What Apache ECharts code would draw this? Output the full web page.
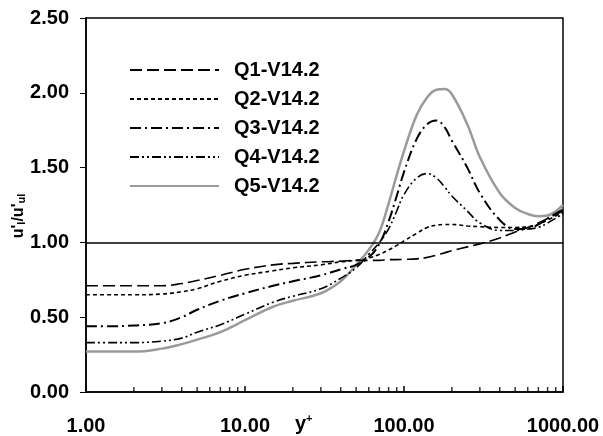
<!DOCTYPE html>
<html><head><meta charset="utf-8">
<script src="https://cdn.jsdelivr.net/npm/echarts@6/dist/echarts.min.js"></script>
<style>html,body{margin:0;padding:0;background:#fff}#c{width:603px;height:436px}</style>
</head><body><div id="c"></div>
<script>
const yPlus = [1, 1.5, 2, 3, 4, 5, 7, 10, 15, 20, 30, 40, 50, 60, 70, 80, 90, 100, 120, 140, 160, 180, 200, 250, 300, 400, 500, 600, 700, 800, 1000];
const q1 = [0.71,0.71,0.71,0.71,0.725,0.745,0.78,0.82,0.85,0.86,0.87,0.875,0.88,0.88,0.88,0.885,0.885,0.887,0.89,0.90,0.915,0.93,0.945,0.97,0.99,1.03,1.07,1.10,1.13,1.16,1.21];
const q2 = [0.65,0.65,0.65,0.655,0.67,0.69,0.74,0.78,0.81,0.83,0.85,0.87,0.88,0.895,0.92,0.95,0.98,1.01,1.06,1.10,1.115,1.12,1.12,1.11,1.105,1.10,1.10,1.105,1.12,1.15,1.20];
const q3 = [0.44,0.44,0.445,0.46,0.50,0.55,0.61,0.66,0.71,0.74,0.78,0.82,0.85,0.90,0.99,1.14,1.31,1.47,1.69,1.79,1.815,1.77,1.68,1.50,1.33,1.15,1.09,1.09,1.12,1.16,1.22];
const q4 = [0.33,0.33,0.33,0.34,0.36,0.40,0.45,0.52,0.60,0.64,0.69,0.76,0.83,0.92,1.00,1.09,1.21,1.32,1.43,1.46,1.43,1.37,1.31,1.21,1.13,1.08,1.08,1.09,1.10,1.13,1.19];
const q5 = [0.27,0.27,0.27,0.29,0.32,0.35,0.40,0.48,0.57,0.61,0.66,0.74,0.85,0.95,1.07,1.26,1.45,1.61,1.85,1.97,2.02,2.025,1.99,1.79,1.57,1.33,1.23,1.19,1.175,1.18,1.25];
const seriesNames = ['Q1-V14.2','Q2-V14.2','Q3-V14.2','Q4-V14.2','Q5-V14.2'];
const minorTickPos = [2,3,4,5,6,7,8,9,20,30,40,50,60,70,80,90,200,300,400,500,600,700,800,900];
const refLine = 1.0;

const FONT = '"Liberation Sans", Arial, sans-serif';
const pair = arr => yPlus.map((x,i)=>[x,arr[i]]);
const styles = [
  {color:'#000', width:1.6, type:[12,5]},
  {color:'#000', width:1.6, type:[4,3]},
  {color:'#000', width:2, type:[11,4,2,4]},
  {color:'#000', width:1.6, type:[9,3,2,3,2,3]},
  {color:'#9a9a9a', width:2.5, type:'solid'}
];
const data = [q1,q2,q3,q4,q5];
const series = data.map((d,i)=>({
  name: seriesNames[i], type:'line', data: pair(d), smooth: 0.4, symbol:'none',
  lineStyle: styles[i], itemStyle:{color: styles[i].color}, z: i===4 ? 2 : 3,
  animation:false
}));
series[0].markLine = {
  silent:true, symbol:['none','none'], label:{show:false},
  lineStyle:{color:'#000', width:1.5, type:'solid'},
  data:[{yAxis: refLine}], animation:false
};
series.push({
  type:'scatter', data: minorTickPos.map(x=>[x,0]), symbol:'rect',
  symbolSize:[1.5,5], symbolOffset:[0,-2.5], itemStyle:{color:'#000'},
  silent:true, animation:false, z:5
});

const chart = echarts.init(document.getElementById('c'), null, {renderer:'canvas'});
chart.setOption({
  animation:false,
  backgroundColor:'#fff',
  grid:{left:86, right:40, top:18, bottom:44, show:true, borderColor:'#000', borderWidth:1.5, backgroundColor:'transparent'},
  legend:{
    data: seriesNames, orient:'vertical', left:129, top:60, padding:0, itemWidth:89, itemHeight:14,
    itemGap:9, itemStyle:{opacity:0},
    textStyle:{fontFamily:FONT, fontWeight:'bold', fontSize:20, color:'#000', lineHeight:20, padding:[0,0,0,10]}
  },
  xAxis:{
    type:'log', logBase:10, min:1, max:1000,
    axisLine:{lineStyle:{color:'#000', width:1.5}},
    axisTick:{inside:true, length:6, lineStyle:{color:'#000', width:1.5}},
    splitLine:{show:false},
    axisLabel:{fontFamily:FONT, fontWeight:'bold', fontSize:20, color:'#000', margin:24,
      formatter: v => Number(v).toFixed(2)}
  },
  yAxis:{
    type:'value', min:0, max:2.5, interval:0.5,
    axisLine:{show:true, lineStyle:{color:'#000', width:1.5}},
    axisTick:{show:true, inside:false, length:6, lineStyle:{color:'#000', width:1}},
    splitLine:{show:false},
    axisLabel:{fontFamily:FONT, fontWeight:'bold', fontSize:20, color:'#000', margin:17,
      formatter: v => Number(v).toFixed(2)}
  },
  graphic:[
    {type:'text', left:295, top:413, silent:true, style:{
      text:'{a|y}{s|+}', rich:{
        a:{fontFamily:FONT, fontWeight:'bold', fontSize:20, fill:'#000', lineHeight:22},
        s:{fontFamily:FONT, fontWeight:'bold', fontSize:11, fill:'#000', verticalAlign:'top', lineHeight:22, padding:[0,0,12,0]}
      }}},
    {type:'text', x:18, y:216, rotation:Math.PI/2, silent:true, style:{
      text:"{a|u'}{s|l}{a|/u'}{s|ul}", align:'center', verticalAlign:'middle', rich:{
        a:{fontFamily:FONT, fontWeight:'bold', fontSize:16, fill:'#000', lineHeight:18, verticalAlign:'bottom'},
        s:{fontFamily:FONT, fontWeight:'bold', fontSize:11, fill:'#000', lineHeight:11, verticalAlign:'bottom', padding:[6,0,0,0]}
      }}}
  ],
  series: series
});
</script></body></html>
